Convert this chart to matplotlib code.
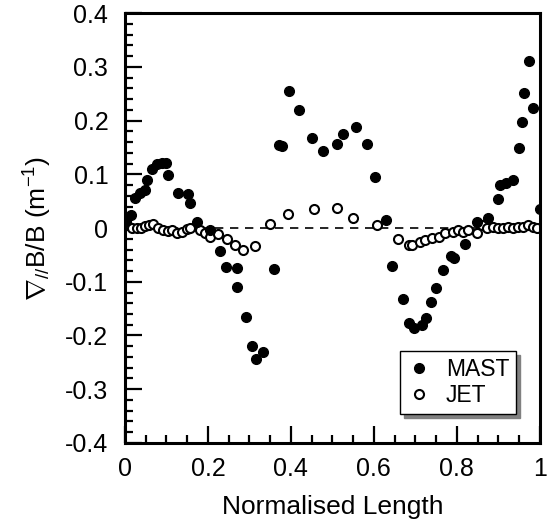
import matplotlib
matplotlib.use('Agg')
import matplotlib.pyplot as plt
from matplotlib.ticker import MultipleLocator

plt.rcParams['font.family'] = ['Liberation Sans', 'DejaVu Sans']
plt.rcParams['mathtext.fontset'] = 'custom'
plt.rcParams['mathtext.rm'] = 'Liberation Sans'
plt.rcParams['mathtext.it'] = 'Liberation Sans'

# MAST (filled circles)
mast_x = [0.003, 0.014, 0.024, 0.036, 0.048, 0.053, 0.065, 0.077, 0.089, 0.099, 0.104,
          0.128, 0.152, 0.157, 0.173, 0.205, 0.229, 0.243, 0.270, 0.270, 0.291, 0.306,
          0.316, 0.333, 0.359, 0.371, 0.378, 0.395, 0.419, 0.450, 0.477, 0.510, 0.525,
          0.557, 0.583, 0.602, 0.629, 0.643, 0.670, 0.684, 0.696, 0.715, 0.725, 0.737,
          0.751, 0.767, 0.787, 0.793, 0.819, 0.848, 0.875, 0.900, 0.904, 0.918, 0.935,
          0.949, 0.957, 0.961, 0.974, 0.983, 1.000]
mast_y = [0.014, 0.024, 0.056, 0.065, 0.071, 0.089, 0.110, 0.119, 0.121, 0.121, 0.099,
          0.065, 0.063, 0.046, 0.011, -0.004, -0.043, -0.073, -0.074, -0.110, -0.165, -0.220,
          -0.244, -0.231, -0.076, 0.154, 0.153, 0.255, 0.220, 0.168, 0.143, 0.157, 0.175,
          0.188, 0.156, 0.095, 0.015, -0.071, -0.132, -0.177, -0.186, -0.180, -0.168, -0.138,
          -0.111, -0.078, -0.052, -0.056, -0.030, 0.011, 0.019, 0.054, 0.080, 0.084, 0.089,
          0.149, 0.197, 0.251, 0.311, 0.223, 0.035]

# JET (open circles)
jet_x = [0.005, 0.017, 0.029, 0.039, 0.048, 0.058, 0.067, 0.080, 0.092, 0.104, 0.113,
         0.125, 0.137, 0.149, 0.157, 0.181, 0.193, 0.205, 0.224, 0.245, 0.265, 0.284,
         0.313, 0.349, 0.393, 0.455, 0.511, 0.549, 0.607, 0.658, 0.684, 0.691, 0.711,
         0.723, 0.740, 0.757, 0.771, 0.790, 0.802, 0.814, 0.827, 0.848, 0.860, 0.872,
         0.887, 0.899, 0.911, 0.923, 0.935, 0.947, 0.959, 0.971, 0.983, 0.993]
jet_y = [0.006, 0.000, 0.000, 0.000, 0.004, 0.006, 0.007, 0.000, -0.004, -0.006, -0.004,
         -0.009, -0.007, -0.002, 0.000, -0.004, -0.009, -0.017, -0.011, -0.020, -0.032, -0.041,
         -0.033, 0.007, 0.026, 0.035, 0.037, 0.019, 0.006, -0.020, -0.032, -0.032, -0.026,
         -0.022, -0.019, -0.017, -0.009, -0.007, -0.004, -0.007, -0.004, -0.009, 0.006, 0.000,
         0.002, 0.000, 0.000, 0.002, 0.000, 0.002, 0.002, 0.006, 0.002, 0.000]

fig = plt.figure(figsize=(5.48, 5.31), dpi=100)
ax = fig.add_axes([0.228, 0.166, 0.757, 0.809])

ax.plot([0, 1], [0, 0], 'k--', lw=1.2, dashes=(5, 4), zorder=1)
ax.plot(mast_x, mast_y, 'o', color='black', ms=7, ls='none', label='MAST', zorder=3)
ax.plot(jet_x, jet_y, 'o', mfc='white', mec='black', mew=1.5, ms=6.5, ls='none',
        label='JET', zorder=2)

ax.set_xlim(0, 1)
ax.set_ylim(-0.4, 0.4)
ax.xaxis.set_minor_locator(MultipleLocator(0.05))
ax.yaxis.set_minor_locator(MultipleLocator(0.02))
ax.set_xticks([0, 0.2, 0.4, 0.6, 0.8, 1.0])
ax.set_xticklabels(['0', '0.2', '0.4', '0.6', '0.8', '1'])
ax.set_yticks([-0.4, -0.3, -0.2, -0.1, 0, 0.1, 0.2, 0.3, 0.4])
ax.set_yticklabels(['-0.4', '-0.3', '-0.2', '-0.1', '0', '0.1', '0.2', '0.3', '0.4'])
ax.tick_params(which='both', direction='in', top=False, right=False, width=1.6, labelsize=18)
ax.tick_params(axis='y', which='major', length=12, pad=12)
ax.tick_params(axis='x', which='major', length=12, pad=10)
ax.tick_params(which='minor', length=6)
for s in ax.spines.values():
    s.set_linewidth(2.2)

ax.set_xlabel('Normalised Length', fontsize=19, labelpad=10)
ax.set_ylabel(r'$\nabla_{//}$B/B (m$^{-1}$)', fontsize=19, labelpad=8)

leg = ax.legend(loc='lower left', bbox_to_anchor=(0.663, 0.067), borderaxespad=0,
                fontsize=16.5, frameon=True, fancybox=False, edgecolor='black', framealpha=1,
                shadow={'ox': 3, 'oy': -3, 'color': 'gray', 'alpha': 1},
                handletextpad=0.6, borderpad=0.3, labelspacing=0.15, handlelength=1.1)
leg.get_frame().set_linewidth(1.0)

fig.savefig('out.png', dpi=100)
